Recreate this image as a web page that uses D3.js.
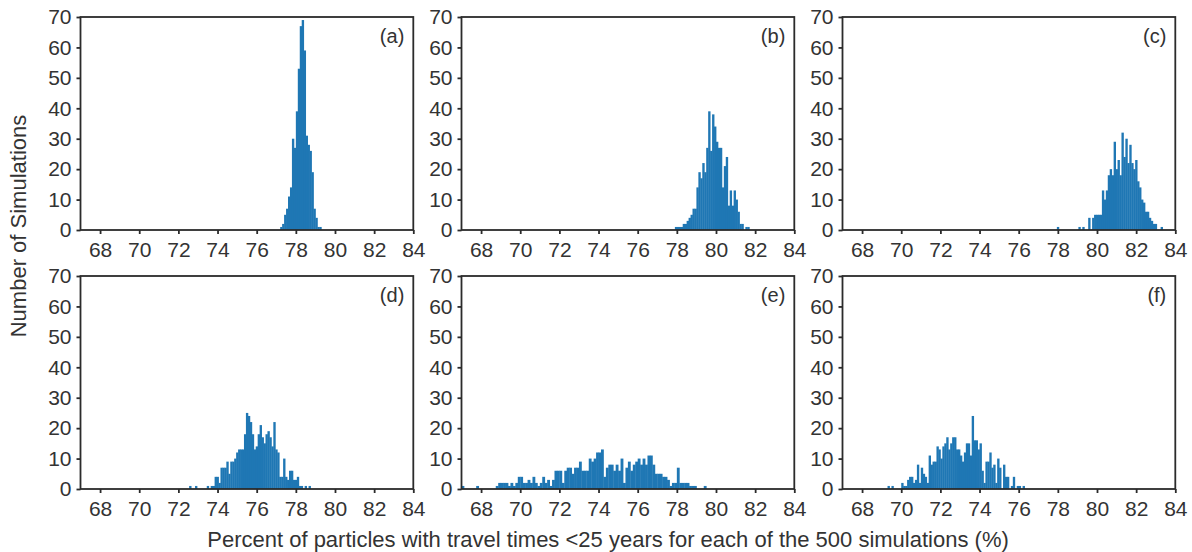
<!DOCTYPE html>
<html>
<head>
<meta charset="utf-8">
<script src="https://cdn.jsdelivr.net/npm/d3@7"></script>
<style>
  html, body { margin: 0; padding: 0; background: #fff; }
  svg { display: block; font-family: "Liberation Sans", Arial, sans-serif; }
</style>
</head>
<body>
<svg id="chart" width="1192" height="552"></svg>
<script>
// ---------------- data ----------------
const panelLabels = ["(a)", "(b)", "(c)", "(d)", "(e)", "(f)"];
const xTicks = [68, 70, 72, 74, 76, 78, 80, 82, 84];
const yTicks = [0, 10, 20, 30, 40, 50, 60, 70];
const xDomain = [67, 84];
const yDomain = [0, 70];

// histogram counts; each panel: first bin edge and bin width (percent)
const startA = 77.2, widthA = 0.1;
const countsA = [1,2,5,7,11,14,30,27,39,53,67,69,59,31,28,26,19,7,4,1,1];

const startB = 77.9, widthB = 0.1;
const countsB = [1,1,1,1,2,2,3,4,5,7,7,14,19,17,22,19,27,39,26,38,34,29,27,27,14,21,24,8,13,8,13,10,6,2,2,0,1,1,0];

const startC = 77.95, widthC = 0.1;
const countsC = [1,0,0,0,0,0,0,0,0,0,0,1,0,1,0,0,4,0,4,5,5,5,5,13,10,13,18,20,18,29,20,23,18,32,24,30,22,28,22,20,23,16,14,10,9,6,6,4,3,2,2,0,0,1];

const startD = 72.55, widthD = 0.1;
const countsD = [1,0,0,1,0,0,0,0,0,1,0,1,1,4,4,2,7,7,7,9,5,9,9,10,12,13,13,13,18,25,24,22,18,13,14,18,21,17,15,18,19,17,14,22,13,12,4,4,10,4,3,6,6,3,3,4,1,1,0,1,0,1];

const startE = 67.0, widthE = 0.125;
const countsE = [1,0,0,0,0,0,1,0,0,0,0,0,0,0,1,2,2,2,2,1,2,1,2,4,4,2,2,3,2,4,2,1,2,4,2,3,1,3,6,6,6,2,6,7,7,5,7,7,9,6,6,6,10,9,10,12,12,13,4,7,8,8,6,8,6,10,2,7,9,6,8,9,10,8,10,8,11,11,8,5,5,5,4,4,3,1,2,2,7,2,2,2,2,1,1,1,0,0,0,1];

const startF = 69.3, widthF = 0.1;
const countsF = [1,0,1,0,0,0,0,2,1,1,3,4,4,2,3,8,2,7,5,4,2,11,8,9,9,14,13,10,14,15,17,13,15,17,17,13,13,11,9,12,15,15,11,24,16,16,13,15,6,2,9,9,12,7,8,2,10,7,0,8,4,4,0,1,4,0,1,1,0,1];

const xTitle = "Percent of particles with travel times <25 years for each of the 500 simulations (%)";
const yTitle = "Number of Simulations";

// ---------------- layout ----------------
const colLeft = [80.5, 461.5, 842.5];
const rowTop = [17, 276];
const plotW = 332.8, plotH = 213;
const barColor = "#1f77b4";
const inkColor = "#333333";
const frameColor = "#2b2b2b";

const panels = [
  { label: panelLabels[0], start: startA, width: widthA, counts: countsA, col: 0, row: 0 },
  { label: panelLabels[1], start: startB, width: widthB, counts: countsB, col: 1, row: 0 },
  { label: panelLabels[2], start: startC, width: widthC, counts: countsC, col: 2, row: 0 },
  { label: panelLabels[3], start: startD, width: widthD, counts: countsD, col: 0, row: 1 },
  { label: panelLabels[4], start: startE, width: widthE, counts: countsE, col: 1, row: 1 },
  { label: panelLabels[5], start: startF, width: widthF, counts: countsF, col: 2, row: 1 }
];

const svg = d3.select("#chart");

const x = d3.scaleLinear().domain(xDomain).range([0, plotW]);
const y = d3.scaleLinear().domain(yDomain).range([plotH, 0]);

panels.forEach(p => {
  const g = svg.append("g")
    .attr("transform", `translate(${colLeft[p.col]},${rowTop[p.row]})`);

  const bins = p.counts.map((c, i) => ({
    x0: p.start + i * p.width,
    x1: p.start + (i + 1) * p.width,
    count: c
  })).filter(b => b.count > 0);

  g.append("g").selectAll("rect")
    .data(bins)
    .join("rect")
    .attr("x", d => x(d.x0))
    .attr("width", d => x(d.x1) - x(d.x0) + 0.4)
    .attr("y", d => y(d.count))
    .attr("height", d => y(0) - y(d.count))
    .attr("fill", barColor);

  // frame
  g.append("rect")
    .attr("x", 0).attr("y", 0)
    .attr("width", plotW).attr("height", plotH)
    .attr("fill", "none")
    .attr("stroke", frameColor)
    .attr("stroke-width", 1.8);

  // axes
  const xAxis = d3.axisBottom(x).tickValues(xTicks).tickSize(4).tickPadding(8).tickFormat(d3.format("d"));
  const yAxis = d3.axisLeft(y).tickValues(yTicks).tickSize(4).tickPadding(5).tickFormat(d3.format("d"));

  const gx = g.append("g").attr("transform", `translate(0,${plotH})`).call(xAxis);
  const gy = g.append("g").call(yAxis);
  [gx, gy].forEach(a => {
    a.select(".domain").remove();
    a.selectAll(".tick line").attr("stroke", frameColor).attr("stroke-width", 1.8);
    a.selectAll(".tick text").attr("fill", inkColor).attr("font-size", 21);
  });

  g.append("text")
    .attr("x", plotW - 9)
    .attr("y", 26)
    .attr("text-anchor", "end")
    .attr("font-size", 20)
    .attr("fill", inkColor)
    .text(p.label);
});

svg.append("text")
  .attr("transform", `translate(26,226) rotate(-90)`)
  .attr("text-anchor", "middle")
  .attr("font-size", 22)
  .attr("fill", inkColor)
  .text(yTitle);

svg.append("text")
  .attr("x", 608)
  .attr("y", 547)
  .attr("text-anchor", "middle")
  .attr("font-size", 22)
  .attr("fill", inkColor)
  .text(xTitle);
</script>
</body>
</html>
